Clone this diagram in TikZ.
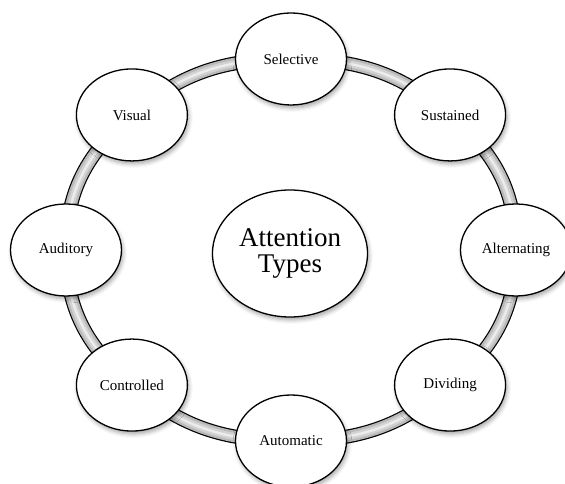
\documentclass[tikz,border=0pt]{standalone}
\usepackage{fontspec}
\setmainfont{Liberation Serif}
\usetikzlibrary{shapes.geometric,shadows.blur,backgrounds}
\begin{document}
\begin{tikzpicture}[x=1pt,y=1pt,
  softshadow/.style={blur shadow={shadow xshift=1.5pt, shadow yshift=-3pt,
      shadow blur radius=4pt, shadow opacity=35}},
  typenode/.style={ellipse, draw=black, line width=1.3pt, fill=white,
      minimum width=111pt, minimum height=92pt, inner sep=0pt,
      font=\fontsize{15}{17}\selectfont, softshadow},
  hubnode/.style={ellipse, draw=black, line width=1.3pt, fill=white,
      minimum width=155pt, minimum height=127pt, inner sep=0pt, align=center,
      font=\fontsize{27}{25.5}\selectfont, softshadow},
  ringband/.style={draw=black, line width=14pt,
      postaction={draw=gray!55, line width=11.6pt},
      postaction={draw=gray!35, line width=7pt},
      postaction={draw=white!85!gray, line width=2.4pt}}
]
\useasboundingbox (0,0) rectangle (565,484);
\clip (0,0) rectangle (565,484);

% centre of the ring
\coordinate (c) at (291,234);

% the eight attention types around the ring
\node[typenode] (alt) at ($(c)+(0:225pt and 191pt)$) {Alternating};
\node[typenode] (sus) at ($(c)+(45:225pt and 191pt)$) {Sustained};
\node[typenode] (sel) at ($(c)+(90:225pt and 191pt)$) {Selective};
\node[typenode] (vis) at ($(c)+(135:225pt and 191pt)$) {Visual};
\node[typenode] (aud) at ($(c)+(180:225pt and 191pt)$) {Auditory};
\node[typenode] (con) at ($(c)+(225:225pt and 191pt)$) {Controlled};
\node[typenode] (aut) at ($(c)+(270:225pt and 191pt)$) {Automatic};
\node[typenode] (div) at ($(c)+(315:225pt and 191pt)$) {Dividing};

% central hub
\node[hubnode] (hub) at (290,230.5) {Attention\\Types};

% ring segments between neighbouring nodes
\begin{pgfonlayer}{background}
  \path[ringband] (alt.center) to[out=90,    in=319.7] (sus.center);
  \path[ringband] (sus.center) to[out=139.7, in=0]     (sel.center);
  \path[ringband] (sel.center) to[out=180,   in=40.3]  (vis.center);
  \path[ringband] (vis.center) to[out=220.3, in=90]    (aud.center);
  \path[ringband] (aud.center) to[out=270,   in=139.7] (con.center);
  \path[ringband] (con.center) to[out=319.7, in=180]   (aut.center);
  \path[ringband] (aut.center) to[out=0,     in=220.3] (div.center);
  \path[ringband] (div.center) to[out=40.3,  in=270]   (alt.center);
\end{pgfonlayer}
\end{tikzpicture}
\end{document}
